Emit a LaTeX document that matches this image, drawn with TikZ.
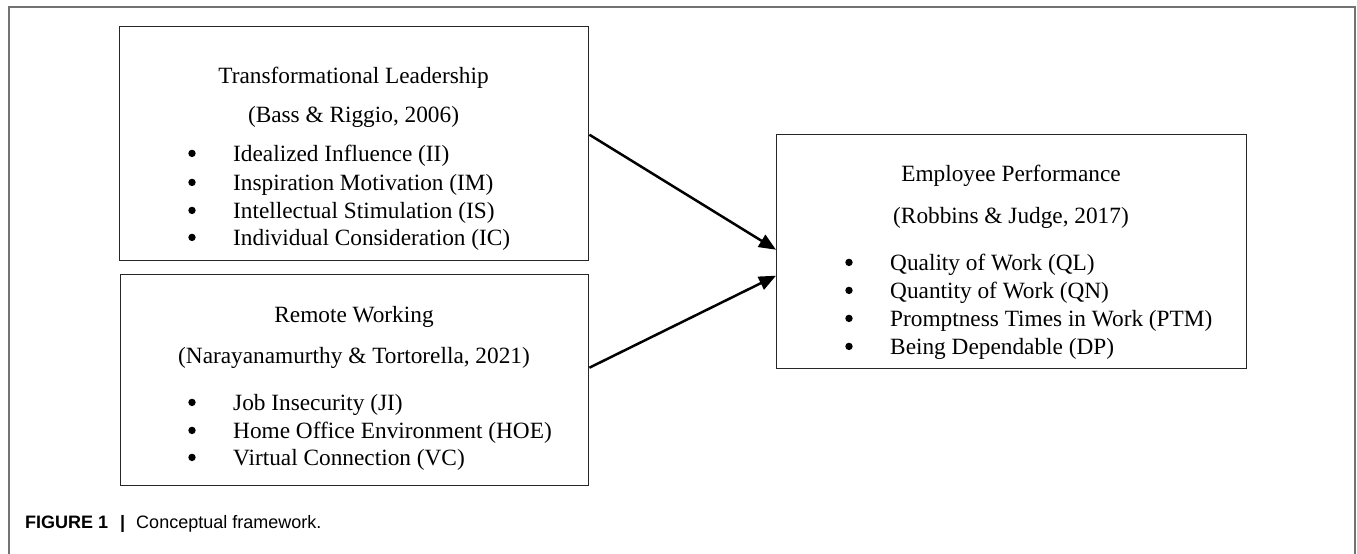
\documentclass[tikz,border=0pt]{standalone}
\usepackage{fontspec}
\setmainfont{Liberation Serif}
\newfontfamily\capfont{Liberation Sans}
\usetikzlibrary{arrows.meta}
\begin{document}
\begin{tikzpicture}[x=1pt,y=-1pt,
  frame/.style={draw=black!55, line width=1.4pt},
  box/.style={draw=black!85, line width=1.4pt, inner sep=0pt, anchor=north west},
  txt/.style={inner sep=0pt, anchor=base, font=\fontsize{23.3}{28}\selectfont},
  itm/.style={inner sep=0pt, anchor=base west, font=\fontsize{23.3}{28}\selectfont},
  dot/.style={circle, fill=black, inner sep=0pt, minimum size=7.4pt},
  arr/.style={line width=2.5pt, -{Triangle[length=17pt,width=14pt]}},
  captxt/.style={inner sep=0pt, anchor=base west, font=\capfont\fontsize{18}{20}\selectfont}]
\useasboundingbox (0,0) rectangle (1357,554);
\draw[frame] (9,554) -- (9,7) -- (1355,7) -- (1355,554);
% boxes
\node[box, minimum width=469pt, minimum height=234pt] (b1) at (119,26) {};
\node[box, minimum width=468pt, minimum height=211pt] (b2) at (120,274) {};
\node[box, minimum width=470pt, minimum height=234pt] (b3) at (776,134) {};
% box 1 text
\node[txt] (t1) at (353.5,83) {Transformational Leadership};
\node[txt] (c1) at (353.5,122) {(Bass \& Riggio, 2006)};
\node[itm] (i11) at (233,161) {Idealized Influence (II)};
\node[itm] (i12) at (233,190) {Inspiration Motivation (IM)};
\node[itm] (i13) at (233,218) {Intellectual Stimulation (IS)};
\node[itm] (i14) at (233,245) {Individual Consideration (IC)};
% box 2 text
\node[txt] (t2) at (354,322) {Remote Working};
\node[txt] (c2) at (354,363) {(Narayanamurthy \& Tortorella, 2021)};
\node[itm] (i21) at (233,410) {Job Insecurity (JI)};
\node[itm] (i22) at (233,438) {Home Office Environment (HOE)};
\node[itm] (i23) at (233,465) {Virtual Connection (VC)};
% box 3 text
\node[txt] (t3) at (1011,181) {Employee Performance};
\node[txt] (c3) at (1011,223) {(Robbins \& Judge, 2017)};
\node[itm] (i31) at (890,270) {Quality of Work (QL)};
\node[itm] (i32) at (890,298) {Quantity of Work (QN)};
\node[itm] (i33) at (890,326) {Promptness Times in Work (PTM)};
\node[itm] (i34) at (890,354) {Being Dependable (DP)};
% bullets
\foreach \n in {i11,i12,i13,i14,i21,i22,i23,i31,i32,i33,i34}
  \node[dot] (d\n) at ([xshift=-41pt,yshift=7.6pt]\n.base west) {};
% arrows
\draw[arr] ([yshift=9pt]b1.east) -- ([yshift=2pt]b3.west);
\draw[arr] ([yshift=12.5pt]b2.east) -- ([yshift=-24pt]b3.west);
% caption
\node[captxt] (cap) at (25,528) {\textbf{FIGURE 1}\hspace{12pt}{\bfseries|}\hspace{11pt}Conceptual framework.};
\end{tikzpicture}
\end{document}
